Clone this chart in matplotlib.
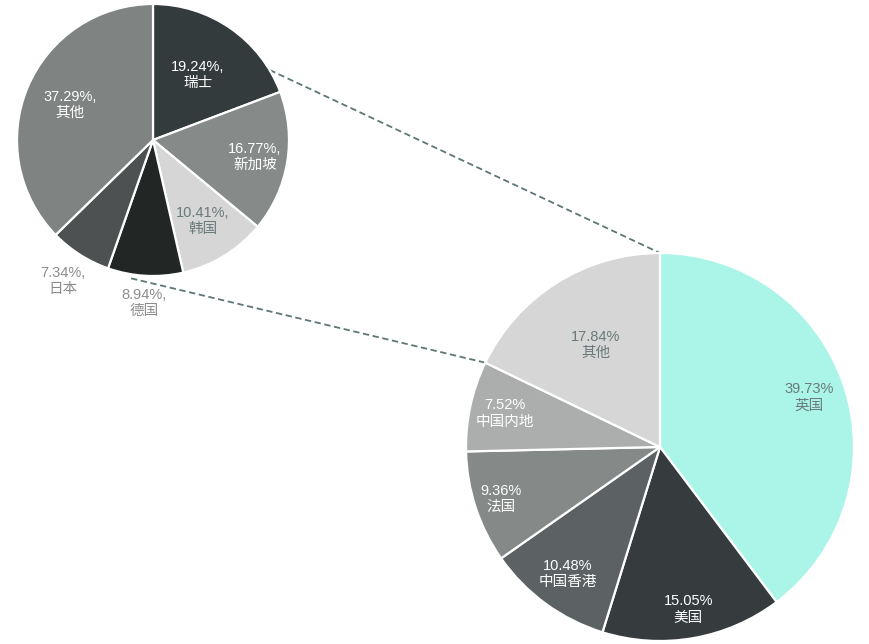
import numpy as np
import matplotlib.pyplot as plt

# big pie (by region)
big_labels = ['英国', '美国', '中国香港', '法国', '中国内地', '其他']
big_values = [39.73, 15.05, 10.48, 9.36, 7.52, 17.84]
big_colors = ['#abf5e8', '#363c3e', '#5c6264', '#858988', '#acaeae', '#d5d6d5']

# small pie (breakdown of 其他)
small_labels = ['瑞士', '新加坡', '韩国', '德国', '日本', '其他']
small_values = [19.24, 16.77, 10.41, 8.94, 7.34, 37.29]
small_colors = ['#343b3c', '#868a89', '#d5d6d5', '#222726', '#4e5151', '#7f8382']

plt.rcParams['font.family'] = ['Liberation Sans', 'Noto Sans CJK SC', 'DejaVu Sans']

W, H = 869, 644
fig = plt.figure(figsize=(W / 100, H / 100), dpi=100)
ax = fig.add_axes([0, 0, 1, 1])

big_c = (660, H - 447)
big_r = 194
small_c = (153, H - 140)
small_r = 136


def draw_pie(values, colors, center, radius):
    wedges, _ = ax.pie(values, colors=colors, center=center, radius=radius,
                       startangle=90, counterclock=False, frame=True,
                       wedgeprops=dict(edgecolor='white', linewidth=1.6))
    return wedges


bw = draw_pie(big_values, big_colors, big_c, big_r)
sw = draw_pie(small_values, small_colors, small_c, small_r)

light = '#6b7a7a'
outer = '#8c8c8c'


def put_labels(wedges, labels, values, center, radius, dist, colors, comma):
    for w, lab, v, d, col in zip(wedges, labels, values, dist, colors):
        ang = np.deg2rad((w.theta1 + w.theta2) / 2)
        x = center[0] + d * radius * np.cos(ang)
        y = center[1] + d * radius * np.sin(ang)
        ax.text(x, y, f'{v:.2f}%{comma}\n{lab}', ha='center', va='center',
                fontsize=10.5, color=col, linespacing=1.22)


put_labels(bw, big_labels, big_values, big_c, big_r,
           [0.81, 0.85, 0.81, 0.86, 0.82, 0.62],
           [light, 'white', 'white', 'white', 'white', light], '')
put_labels(sw, small_labels, small_values, small_c, small_r,
           [0.58, 0.76, 0.70, 1.20, 1.23, 0.66],
           ['white', 'white', light, outer, outer, 'white'], ',')

# connector lines from small pie to the 其他 wedge of the big pie
other = bw[-1]
big_pts = []
for a in (other.theta1, other.theta2):
    t = np.deg2rad(a)
    big_pts.append((big_c[0] + big_r * np.cos(t), big_c[1] + big_r * np.sin(t)))
small_pts = []
for a, rr in ((31, 1.0), (-99, 1.03)):
    t = np.deg2rad(a)
    small_pts.append((small_c[0] + rr * small_r * np.cos(t), small_c[1] + rr * small_r * np.sin(t)))

for p, q in zip(small_pts, big_pts):
    ax.plot([p[0], q[0]], [p[1], q[1]], color='#5e7676', lw=1.3,
            linestyle=(0, (3.5, 2)), zorder=0)

ax.set_xlim(0, W)
ax.set_ylim(0, H)
ax.set_aspect('equal')
ax.axis('off')

fig.savefig('out.png', dpi=100, facecolor='white')
